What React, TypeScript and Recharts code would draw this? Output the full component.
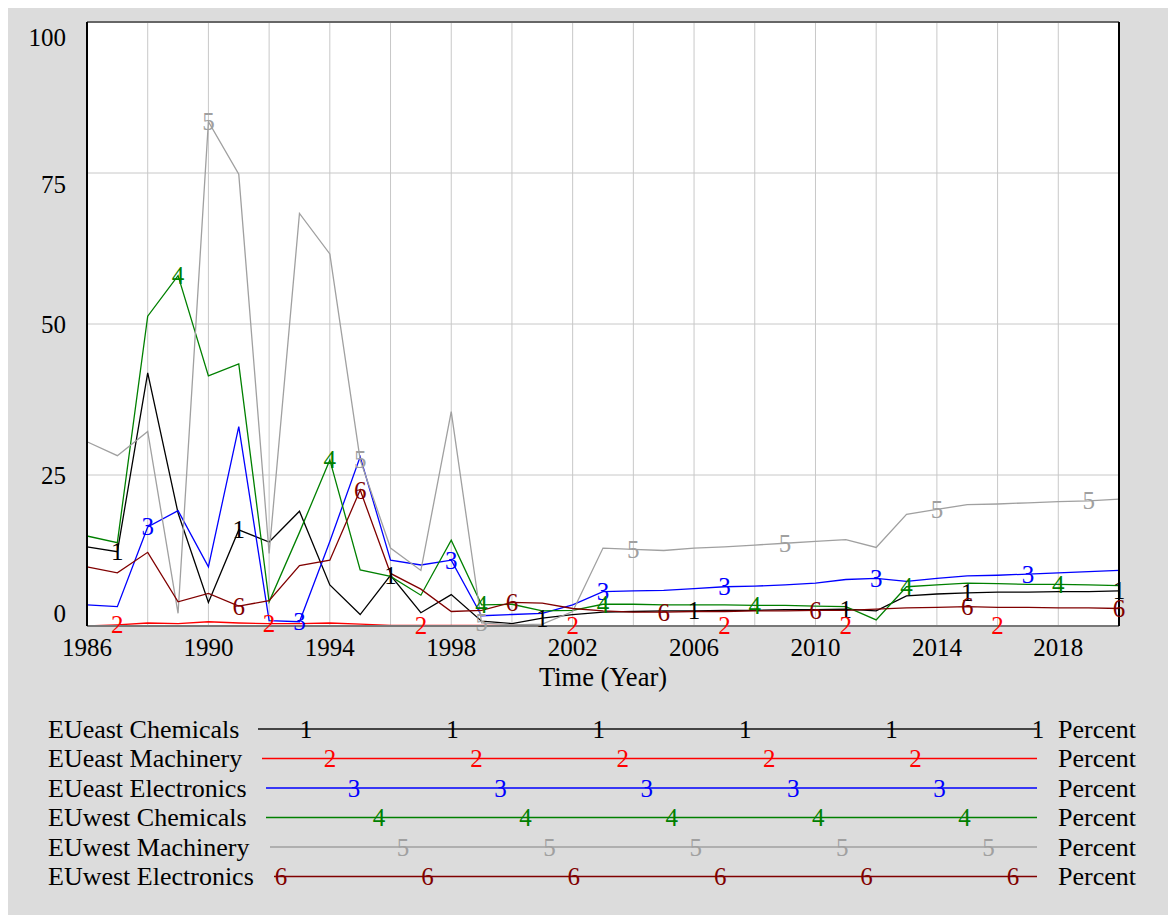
import React from "react";
import {
  LineChart,
  Line,
  XAxis,
  YAxis,
  CartesianGrid,
  ReferenceLine,
} from "recharts";

// Years on the time axis
const years = [
  1986, 1987, 1988, 1989, 1990, 1991, 1992, 1993, 1994, 1995, 1996, 1997,
  1998, 1999, 2000, 2001, 2002, 2003, 2004, 2005, 2006, 2007, 2008, 2009,
  2010, 2011, 2012, 2013, 2014, 2015, 2016, 2017, 2018, 2019, 2020,
];

// Percent values
const eueastChemicals = [
  13.1, 12.3, 41.9, 18.7, 3.9, 15.9, 13.9, 19.0, 6.8, 1.9, 8.4, 2.2, 5.2, 0.8,
  0.4, 1.3, 1.9, 2.3, 2.4, 2.5, 2.5, 2.6, 2.6, 2.7, 2.7, 2.8, 2.5, 5.0, 5.3,
  5.5, 5.6, 5.6, 5.7, 5.7, 5.8,
];
const eueastMachinery = [
  0.0, 0.2, 0.5, 0.4, 0.7, 0.5, 0.4, 0.4, 0.5, 0.3, 0.1, 0.1, 0.1, 0.1, 0.1,
  0.05, 0.05, 0.05, 0.05, 0.05, 0.05, 0.05, 0.05, 0.05, 0.05, 0.05, 0.05, 0.05,
  0.05, 0.05, 0.05, 0.05, 0.05, 0.05, 0.05,
];
const eueastElectronics = [
  3.5, 3.2, 16.4, 19.1, 9.8, 33.0, 0.9, 0.7, 14.0, 28.0, 10.9, 10.1, 10.9, 1.7,
  1.9, 2.1, 3.5, 5.7, 5.8, 5.9, 6.2, 6.5, 6.6, 6.8, 7.1, 7.7, 7.9, 7.4, 7.9,
  8.3, 8.4, 8.6, 8.8, 9.0, 9.2,
];
const euwestChemicals = [
  14.9, 13.8, 51.3, 58.0, 41.4, 43.4, 4.0, 15.5, 27.5, 9.3, 8.2, 5.1, 14.2, 3.5,
  3.6, 2.5, 2.6, 3.6, 3.6, 3.5, 3.5, 3.5, 3.4, 3.4, 3.3, 3.2, 1.0, 6.5, 6.8,
  7.1, 7.0, 6.9, 6.9, 6.8, 6.7,
];
const euwestMachinery = [
  30.5, 28.2, 32.2, 2.1, 83.5, 74.8, 12.0, 68.3, 61.6, 27.5, 12.9, 9.2, 35.5,
  0.5, 0.2, 0.3, 2.4, 12.9, 12.7, 12.5, 12.9, 13.1, 13.4, 13.7, 14.0, 14.3,
  13.0, 18.5, 19.3, 20.1, 20.2, 20.4, 20.6, 20.7, 21.0,
];
const euwestElectronics = [
  9.8, 8.8, 12.2, 4.0, 5.4, 3.3, 4.2, 10.0, 10.9, 22.5, 8.7, 6.1, 2.4, 2.6, 3.9,
  3.8, 2.9, 2.5, 2.3, 2.3, 2.4, 2.4, 2.5, 2.5, 2.6, 2.6, 2.8, 3.0, 3.1, 3.2,
  3.1, 3.1, 3.0, 3.0, 2.9,
];

const xTicks = [1986, 1990, 1994, 1998, 2002, 2006, 2010, 2014, 2018];
const yTicks = [0, 25, 50, 75, 100];
const xGrid = [1988, 1990, 1992, 1994, 1996, 1998, 2000, 2002, 2004, 2006, 2008, 2010, 2012, 2014, 2016, 2018];
const yGrid = [25, 50, 75];

// series: key, label, color, indexes where the marker digit is drawn
const series = [
  { key: "s1", name: "EUeast Chemicals", color: "#000000", values: eueastChemicals, marks: [1, 5, 10, 15, 20, 25, 29, 34] },
  { key: "s2", name: "EUeast Machinery", color: "#ff0000", values: eueastMachinery, marks: [1, 6, 11, 16, 21, 25, 30] },
  { key: "s3", name: "EUeast Electronics", color: "#0000ff", values: eueastElectronics, marks: [2, 7, 12, 17, 21, 26, 31] },
  { key: "s4", name: "EUwest Chemicals", color: "#008000", values: euwestChemicals, marks: [3, 8, 13, 17, 22, 27, 32] },
  { key: "s5", name: "EUwest Machinery", color: "#a0a0a0", values: euwestMachinery, marks: [4, 9, 13, 18, 23, 28, 33] },
  { key: "s6", name: "EUwest Electronics", color: "#800000", values: euwestElectronics, marks: [5, 9, 14, 19, 24, 29, 34] },
];

const data = years.map((year, i) => {
  const row: any = { year };
  series.forEach((s) => (row[s.key] = s.values[i]));
  return row;
});

const FONT = "'Liberation Serif', 'Times New Roman', serif";

// small vertical nudges Vensim applies to the end labels of the y axis
const yTickShift: Record<number, number> = { 0: -13, 25: 0, 50: 0, 75: 11, 100: 15 };

// legend layout (line start and first marker, page px minus the 8px margin)
const legendRows = [
  { lineStart: 250, firstMark: 298, lineColor: "#444", lineWidth: 2 },
  { lineStart: 254, firstMark: 322, lineColor: "#ff0000", lineWidth: 1.5 },
  { lineStart: 258, firstMark: 346, lineColor: "#0000ff", lineWidth: 1.5 },
  { lineStart: 258, firstMark: 371, lineColor: "#008000", lineWidth: 1.5 },
  { lineStart: 262, firstMark: 395, lineColor: "#a0a0a0", lineWidth: 1.5 },
  { lineStart: 266, firstMark: 273, lineColor: "#800000", lineWidth: 1.5 },
];

function markerDot(s: any, digit: string) {
  return (props: any) => {
    const { cx, cy, index } = props;
    if (!s.marks.includes(index)) return <g key={`${s.key}-${index}`} />;
    return (
      <text
        key={`${s.key}-${index}`}
        x={cx}
        y={cy}
        dy="0.34em"
        textAnchor="middle"
        fontSize={25}
        fontFamily={FONT}
        fill={s.color}
      >
        {digit}
      </text>
    );
  };
}

function Legend() {
  return (
    <svg width={1160} height={207} style={{ position: "absolute", left: 0, top: 700 }}>
      {series.map((s, i) => {
        const row = legendRows[i];
        const y = 21 + i * 29.5;
        const marks: number[] = [];
        for (let x = row.firstMark; x <= 1030; x += 146.4) marks.push(x);
        return (
          <g key={s.key} fontFamily={FONT} fontSize={26}>
            <text x={40} y={y} dy="0.34em" fill="#000">
              {s.name}
            </text>
            <line x1={row.lineStart} x2={1029} y1={y} y2={y} stroke={row.lineColor} strokeWidth={row.lineWidth} />
            {marks.map((x, j) => (
              <text key={j} x={x} y={y} dy="0.34em" textAnchor="middle" fill={s.color} fontSize={25}>
                {String(i + 1)}
              </text>
            ))}
            <text x={1050} y={y} dy="0.34em" fill="#000">
              Percent
            </text>
          </g>
        );
      })}
    </svg>
  );
}

export default function App() {
  return (
    <div
      style={{
        position: "absolute",
        left: 8,
        top: 8,
        width: 1160,
        height: 907,
        background: "#dcdcdc",
      }}
    >
      <LineChart width={1160} height={700} data={data} margin={{ top: 0, right: 0, bottom: 0, left: 0 }}>
        <CartesianGrid fill="#ffffff" horizontal={false} vertical={false} />
        <XAxis
          dataKey="year"
          type="number"
          domain={[1986, 2020]}
          ticks={xTicks}
          height={82}
          tickLine={false}
          axisLine={{ stroke: "#777", strokeWidth: 2 }}
          tick={(p: any) => (
            <text x={p.x} y={639} dy="0.34em" textAnchor="middle" fontSize={25} fontFamily={FONT} fill="#000">
              {p.payload.value}
            </text>
          )}
          label={{
            content: (p: any) => (
              <text
                x={p.viewBox.x + p.viewBox.width / 2}
                y={669}
                dy="0.34em"
                textAnchor="middle"
                fontSize={26.5}
                fontFamily={FONT}
                fill="#000"
              >
                Time (Year)
              </text>
            ),
          }}
        />
        <XAxis
          xAxisId="top"
          dataKey="year"
          type="number"
          domain={[1986, 2020]}
          orientation="top"
          height={14}
          tick={false}
          tickLine={false}
          axisLine={{ stroke: "#666", strokeWidth: 2 }}
        />
        <YAxis
          domain={[0, 100]}
          ticks={yTicks}
          width={79}
          tickLine={false}
          axisLine={{ stroke: "#000", strokeWidth: 2 }}
          tick={(p: any) => (
            <text
              x={58}
              y={p.y + (yTickShift[p.payload.value] || 0)}
              dy="0.34em"
              textAnchor="end"
              fontSize={25}
              fontFamily={FONT}
              fill="#000"
            >
              {p.payload.value}
            </text>
          )}
        />
        <YAxis
          yAxisId="right"
          orientation="right"
          domain={[0, 100]}
          width={49}
          tick={false}
          tickLine={false}
          axisLine={{ stroke: "#000", strokeWidth: 2 }}
        />
        {xGrid.map((x) => (
          <ReferenceLine key={`gx${x}`} x={x} stroke="#c8c8c8" strokeWidth={1} />
        ))}
        {yGrid.map((y) => (
          <ReferenceLine key={`gy${y}`} y={y} stroke="#c8c8c8" strokeWidth={1} />
        ))}
        {series.map((s, i) => (
          <Line
            key={s.key}
            dataKey={s.key}
            type="linear"
            stroke={s.color}
            strokeWidth={1.3}
            dot={markerDot(s, String(i + 1))}
            activeDot={false}
            isAnimationActive={false}
          />
        ))}
      </LineChart>
      <Legend />
    </div>
  );
}
